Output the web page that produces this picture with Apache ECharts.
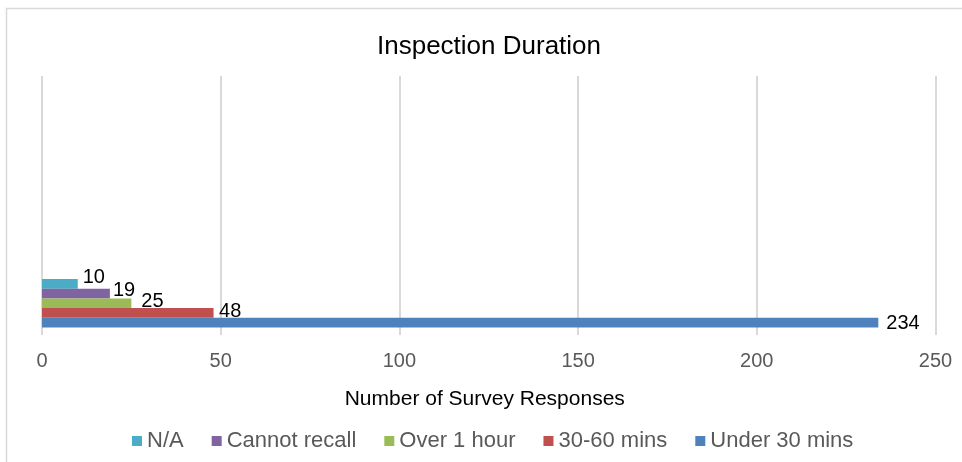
<!DOCTYPE html>
<html>
<head>
<meta charset="utf-8">
<script src="https://cdn.jsdelivr.net/npm/echarts@6/dist/echarts.min.js"></script>
<style>
  html, body { margin: 0; padding: 0; background: #fff; }
  #chart { width: 962px; height: 462px; }
</style>
</head>
<body>
<div id="chart"></div>
<script>
// series, top bar first (legend order)
const seriesNames = ['N/A', 'Cannot recall', 'Over 1 hour', '30-60 mins', 'Under 30 mins']
const seriesValues = [10, 19, 25, 48, 234]
const seriesColors = ['#4BACC6', '#8064A2', '#9BBB59', '#C0504D', '#4F81BD']
const categories = ['']
const xTicks = { min: 0, max: 250, interval: 50 }

// small nudges so the data labels sit like the original
const labelOffsets = [[0, -6], [-2, -3.5], [5, -1.5], [0.5, -1], [3, 0.5]]

const font = '"Liberation Sans", Arial, sans-serif'
const chart = echarts.init(document.getElementById('chart'))

const series = seriesNames.map((name, i) => ({
  name: name,
  type: 'bar',
  xAxisIndex: 1,
  yAxisIndex: 1,
  barGap: 0,
  barCategoryGap: 0,
  data: [seriesValues[i]],
  itemStyle: { color: seriesColors[i] },
  label: {
    show: true,
    position: 'right',
    distance: 5,
    offset: labelOffsets[i],
    color: '#000',
    fontFamily: font,
    fontSize: 20
  }
}))

const option = {
  animation: false,
  graphic: [{
    type: 'rect',
    shape: { x: 6.5, y: 8.5, width: 980, height: 480 },
    style: { fill: 'none', stroke: '#d9d9d9', lineWidth: 1.5 },
    silent: true
  }],
  title: {
    text: 'Inspection Duration',
    left: 377,
    top: 34,
    padding: 0,
    textStyle: { color: '#000', fontFamily: font, fontSize: 26, fontWeight: 'normal' }
  },
  legend: {
    data: seriesNames,
    left: 132,
    top: 430,
    padding: 0,
    itemWidth: 10,
    itemHeight: 10,
    itemGap: 28,
    icon: 'rect',
    textStyle: { color: '#595959', fontFamily: font, fontSize: 22 }
  },
  grid: [
    { left: 42, right: 26.5, top: 76, height: 259 },
    { left: 42, right: 26.5, top: 279, height: 48.5 }
  ],
  xAxis: [{
    gridIndex: 0,
    type: 'value',
    min: xTicks.min,
    max: xTicks.max,
    interval: xTicks.interval,
    axisLine: { show: false },
    axisTick: { show: false },
    splitLine: { lineStyle: { color: '#d9d9d9', width: 2 } },
    axisLabel: { color: '#595959', fontFamily: font, fontSize: 20, margin: 16 },
    name: 'Number of Survey Responses',
    nameLocation: 'middle',
    nameGap: 54,
    nameTextStyle: { color: '#000', fontFamily: font, fontSize: 21, padding: [0, 8, 0, 0] }
  }, {
    gridIndex: 1,
    type: 'value',
    min: xTicks.min,
    max: xTicks.max,
    show: false
  }],
  yAxis: [{
    gridIndex: 0,
    type: 'value',
    show: false
  }, {
    gridIndex: 1,
    type: 'category',
    data: categories,
    show: false
  }],
  series: series
}

chart.setOption(option)
</script>
</body>
</html>
